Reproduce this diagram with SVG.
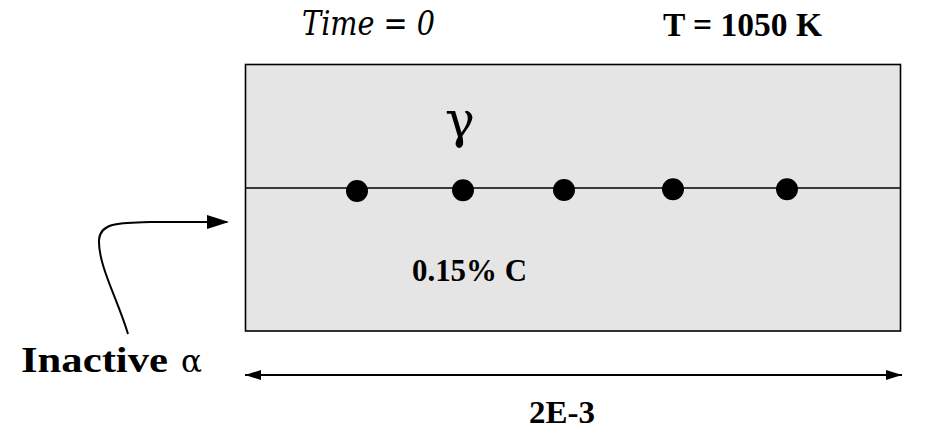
<svg xmlns="http://www.w3.org/2000/svg" width="926" height="439" viewBox="0 0 926 439">
<style>
.lbl{font-family:"Liberation Serif","DejaVu Serif",serif;fill:#000}
.dv{font-family:"DejaVu Serif","Liberation Serif",serif;fill:#000}
.b{font-weight:bold}
.it{font-style:italic}
.ln{stroke:#000;fill:none}
.dot{fill:#000}
</style>
<defs>
<marker id="ah" markerUnits="userSpaceOnUse" markerWidth="22" markerHeight="14" refX="20" refY="7" orient="auto">
<path d="M0,0 L22,7 L0,14 Z" fill="#000"/>
</marker>
<marker id="dh" markerUnits="userSpaceOnUse" markerWidth="16" markerHeight="10" refX="16" refY="5" orient="auto-start-reverse">
<path d="M0,0 L16,5 L0,10 Z" fill="#000"/>
</marker>
</defs>
<g id="title">
<text class="dv it" x="302" y="35" font-size="34" textLength="133" lengthAdjust="spacingAndGlyphs">Time = 0</text>
<text class="lbl b" x="663" y="36" font-size="34" textLength="159" lengthAdjust="spacingAndGlyphs">T = 1050 K</text>
</g>
<g id="specimen">
<rect x="245.5" y="64.5" width="655" height="266.5" fill="#e5e5e5" stroke="#000" stroke-width="1.6"/>
<line class="ln" x1="246" y1="188" x2="900" y2="188" stroke-width="1.3"/>
<text class="dv" x="460" y="137" font-size="50" text-anchor="middle">γ</text>
<text class="lbl b" x="412" y="281" font-size="31" textLength="115" lengthAdjust="spacingAndGlyphs">0.15% C</text>
</g>
<g id="particles">
<circle class="dot" cx="357" cy="191" r="11"/>
<circle class="dot" cx="463" cy="190.3" r="11"/>
<circle class="dot" cx="564" cy="190" r="11"/>
<circle class="dot" cx="673" cy="189.3" r="11"/>
<circle class="dot" cx="787" cy="189.3" r="11"/>
</g>
<g id="inactive-alpha">
<text class="lbl b" x="21" y="372" font-size="36" textLength="147" lengthAdjust="spacingAndGlyphs">Inactive</text>
<text class="dv" x="181" y="372" font-size="32" textLength="21" lengthAdjust="spacingAndGlyphs">α</text>
</g>
<g id="dimension">
<text class="lbl b" x="529" y="423" font-size="31" textLength="66" lengthAdjust="spacingAndGlyphs">2E-3</text>
</g>
<g id="connectors">
<path class="ln" d="M128,334 C118,300 98,265 99,240 C100,222 120,223 150,222 L227,222" stroke-width="2" marker-end="url(#ah)"/>
<line class="ln" x1="245" y1="375" x2="902" y2="375" stroke-width="1.8" marker-start="url(#dh)" marker-end="url(#dh)"/>
</g>
</svg>
